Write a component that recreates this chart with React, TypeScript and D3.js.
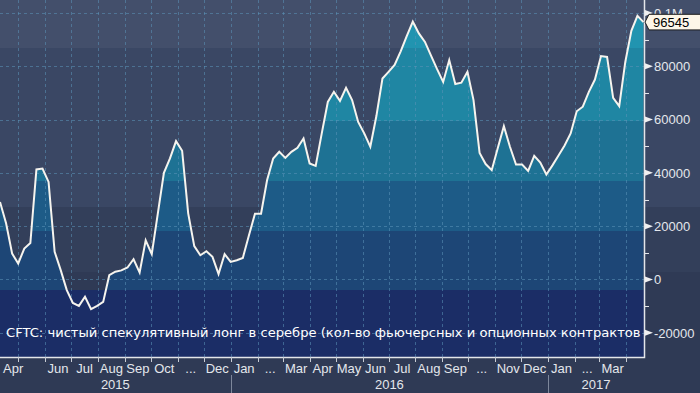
import React, { useEffect, useRef } from 'react';
import * as d3 from 'd3';

// weekly CFTC silver net speculative long, first report week
const firstWeek = '2015-04-10';

const netLong = [
  29100, 21100, 9700, 6000, 11600, 13700, 41300, 41600, 36600, 10400,
  3500, -4000, -8800, -9900, -6500, -11100, -9900, -8400, 1600, 2900,
  3400, 4500, 7600, 2600, 14700, 9500, 24800, 40000, 45400, 51900,
  48300, 24800, 12500, 9100, 10600, 8500, 2000, 9500, 6600, 7200,
  8100, 16500, 24700, 24700, 37300, 45400, 47900, 45600, 47900, 49400,
  52900, 43500, 42600, 54800, 66600, 70400, 67000, 71900, 67300, 59100,
  54800, 49800, 61300, 75400, 77900, 80500, 85600, 91300, 96700, 92300,
  89100, 84000, 78900, 74100, 82300, 73300, 73800, 77900, 67300, 47500,
  43300, 41000, 49300, 57500, 49800, 43100, 43100, 40700, 46400, 43900,
  39400, 42800, 46500, 50300, 54800, 63100, 64800, 70400, 75000, 83800,
  83500, 68100, 65000, 81600, 93300, 98900, 96545,
];

// one label per month, Apr 2015 .. Mar 2017 ('' = hidden)
const monthLabels = [
  'Apr', '', 'Jun', 'Jul', 'Aug', 'Sep', 'Oct', '...', 'Dec',
  'Jan', '...', 'Mar', 'Apr', 'May', 'Jun', 'Jul', 'Aug', 'Sep', '...', 'Nov', 'Dec',
  'Jan', '...', 'Mar',
];
const yearLabels = ['2015', '2016', '2017'];

const yTicks = [-20000, 0, 20000, 40000, 60000, 80000, 100000];
const yTickLabels = ['-20000', '0', '20000', '40000', '60000', '80000', '0.1M'];
const yMinorTicks = [-10000, 10000, 30000, 50000, 70000, 90000];

const caption = 'CFTC: чистый спекулятивный лонг в серебре (кол-во фьючерсных и опционных контрактов';
const lastLabel = '96545';

export default function App() {
  const ref = useRef<SVGSVGElement | null>(null);

  useEffect(() => {
    if (!ref.current) return;
    const svg = d3.select(ref.current);
    svg.selectAll('*').remove();

    const W = 700, H = 393;
    const plotR = 644, plotB = 357;
    const font = '"Liberation Sans", Arial, sans-serif';

    const start = d3.timeParse('%Y-%m-%d')(firstWeek)!;
    const data = netLong.map((v, i) => ({ date: d3.timeWeek.offset(start, i), value: v }));

    const x = d3.scaleTime()
      .domain([data[0].date, data[data.length - 1].date])
      .range([0, 643.5]);
    const y = d3.scaleLinear().domain([-20000, 100000]).range([332.8, 12.9]);

    // background bands (whole page)
    const bgBands: [number, number, string][] = [
      [0, 48, '#434f6b'], [48, 207, '#3a4764'], [207, 272, '#333f5a'], [272, H, '#2f3a55'],
    ];
    svg.selectAll('rect.bg').data(bgBands).join('rect')
      .attr('class', 'bg')
      .attr('x', 0).attr('width', W)
      .attr('y', d => d[0]).attr('height', d => d[1] - d[0])
      .attr('fill', d => d[2]);

    svg.append('rect')
      .attr('x', 0).attr('y', 290).attr('width', plotR).attr('height', plotB - 290)
      .attr('fill', '#1b2d66');

    const defs = svg.append('defs');
    const area = d3.area<{ date: Date; value: number }>()
      .x(d => x(d.date)).y0(plotB).y1(d => y(d.value));
    defs.append('clipPath').attr('id', 'areaClip')
      .append('path').attr('d', area(data)!);

    const areaBands: [number, number, string][] = [
      [0, 48, '#2194b0'], [48, 121, '#1f86a3'], [121, 181, '#1e7294'],
      [181, 231, '#1d5b87'], [231, 290, '#1d4676'],
    ];
    svg.append('g').attr('clip-path', 'url(#areaClip)')
      .selectAll('rect').data(areaBands).join('rect')
      .attr('x', 0).attr('width', plotR)
      .attr('y', d => d[0]).attr('height', d => d[1] - d[0])
      .attr('fill', d => d[2]);

    // grid
    const months = d3.timeMonth.range(d3.timeMonth.ceil(x.domain()[0]), x.domain()[1]);
    const grid = svg.append('g')
      .attr('stroke', '#5b93b8').attr('stroke-opacity', 0.55)
      .attr('stroke-dasharray', '3,3').attr('stroke-width', 1);
    grid.selectAll('line.v').data(months).join('line')
      .attr('class', 'v')
      .attr('x1', d => Math.round(x(d)) + 0.5).attr('x2', d => Math.round(x(d)) + 0.5)
      .attr('y1', 0).attr('y2', plotB);
    grid.selectAll('line.h').data(yTicks).join('line')
      .attr('class', 'h')
      .attr('x1', 0).attr('x2', plotR)
      .attr('y1', d => Math.round(y(d)) + 0.5).attr('y2', d => Math.round(y(d)) + 0.5);

    // series line
    const line = d3.line<{ date: Date; value: number }>()
      .x(d => x(d.date)).y(d => y(d.value));
    svg.append('path')
      .attr('d', line(data)!)
      .attr('fill', 'none')
      .attr('stroke', '#f6f4ee')
      .attr('stroke-width', 2)
      .attr('stroke-linejoin', 'miter');

    // caption
    svg.append('text')
      .attr('x', 6).attr('y', 337)
      .attr('fill', '#ffffff')
      .style('font-family', '"DejaVu Sans", sans-serif').style('font-size', '13.1px')
      .text(caption);

    // axes lines
    svg.append('path')
      .attr('d', `M${plotR + 0.5},0V${plotB + 0.5}H0`)
      .attr('fill', 'none').attr('stroke', '#e4e6ea').attr('stroke-width', 1.5);

    // bottom ticks
    svg.append('g').selectAll('line').data(months).join('line')
      .attr('x1', d => Math.round(x(d)) + 0.5).attr('x2', d => Math.round(x(d)) + 0.5)
      .attr('y1', plotB).attr('y2', plotB + 5)
      .attr('stroke', '#c8ccd4');

    const labelMonths = d3.timeMonth.range(d3.timeMonth.floor(x.domain()[0]), x.domain()[1]);
    const mLab = svg.append('g')
      .attr('fill', '#e4e7ec')
      .style('font-family', font).style('font-size', '13px');
    labelMonths.forEach((m, i) => {
      const txt = monthLabels[i];
      if (!txt) return;
      const a = Math.max(0, x(m));
      const b = Math.min(plotR, x(d3.timeMonth.offset(m, 1)));
      const t = mLab.append('text').attr('text-anchor', 'middle').attr('y', 373).text(txt);
      const w = (t.node() as SVGTextElement).getComputedTextLength();
      t.attr('x', Math.max((a + b) / 2, 3 + w / 2));
    });

    const years = d3.timeYear.range(d3.timeYear.floor(x.domain()[0]), x.domain()[1]);
    years.forEach((yr, i) => {
      const a = Math.max(0, x(yr));
      const b = Math.min(plotR, x(d3.timeYear.offset(yr, 1)));
      mLab.append('text').attr('text-anchor', 'middle')
        .attr('x', (a + b) / 2).attr('y', 389).text(yearLabels[i]);
      if (i > 0) {
        svg.append('line')
          .attr('x1', Math.round(a) + 0.5).attr('x2', Math.round(a) + 0.5)
          .attr('y1', 375).attr('y2', H)
          .attr('stroke', '#7d879b');
      }
    });

    // right axis
    const ra = svg.append('g');
    ra.selectAll('line').data(yMinorTicks).join('line')
      .attr('x1', plotR).attr('x2', plotR + 5)
      .attr('y1', d => Math.round(y(d)) + 0.5).attr('y2', d => Math.round(y(d)) + 0.5)
      .attr('stroke', '#e4e6ea');
    ra.selectAll('path').data(yTicks).join('path')
      .attr('d', d => `M${plotR + 1},${y(d) - 3}L${plotR + 9},${y(d)}L${plotR + 1},${y(d) + 3}Z`)
      .attr('fill', '#f0f0f0');
    ra.selectAll('text').data(yTicks).join('text')
      .attr('x', 654).attr('y', d => y(d) + 4.7)
      .attr('fill', '#e4e7ec')
      .style('font-family', font).style('font-size', '13px')
      .text((d, i) => yTickLabels[i]);

    // last value tag (covers most of the 0.1M label, as in the original)
    const ly = y(netLong[netLong.length - 1]);
    svg.append('path')
      .attr('d', `M${plotR + 1},${ly}L${plotR + 5},${ly - 7.8}H${W + 2}V${ly + 7.8}H${plotR + 5}Z`)
      .attr('fill', '#fdf6e8').attr('stroke', '#1c1c1c').attr('stroke-width', 1);
    svg.append('text')
      .attr('x', 653).attr('y', ly + 4.7)
      .attr('fill', '#000')
      .style('font-family', font).style('font-size', '13px')
      .text(lastLabel);
  }, []);

  return (
    <svg
      ref={ref}
      width={700}
      height={393}
      style={{ position: 'absolute', left: 0, top: 0, display: 'block' }}
    />
  );
}
